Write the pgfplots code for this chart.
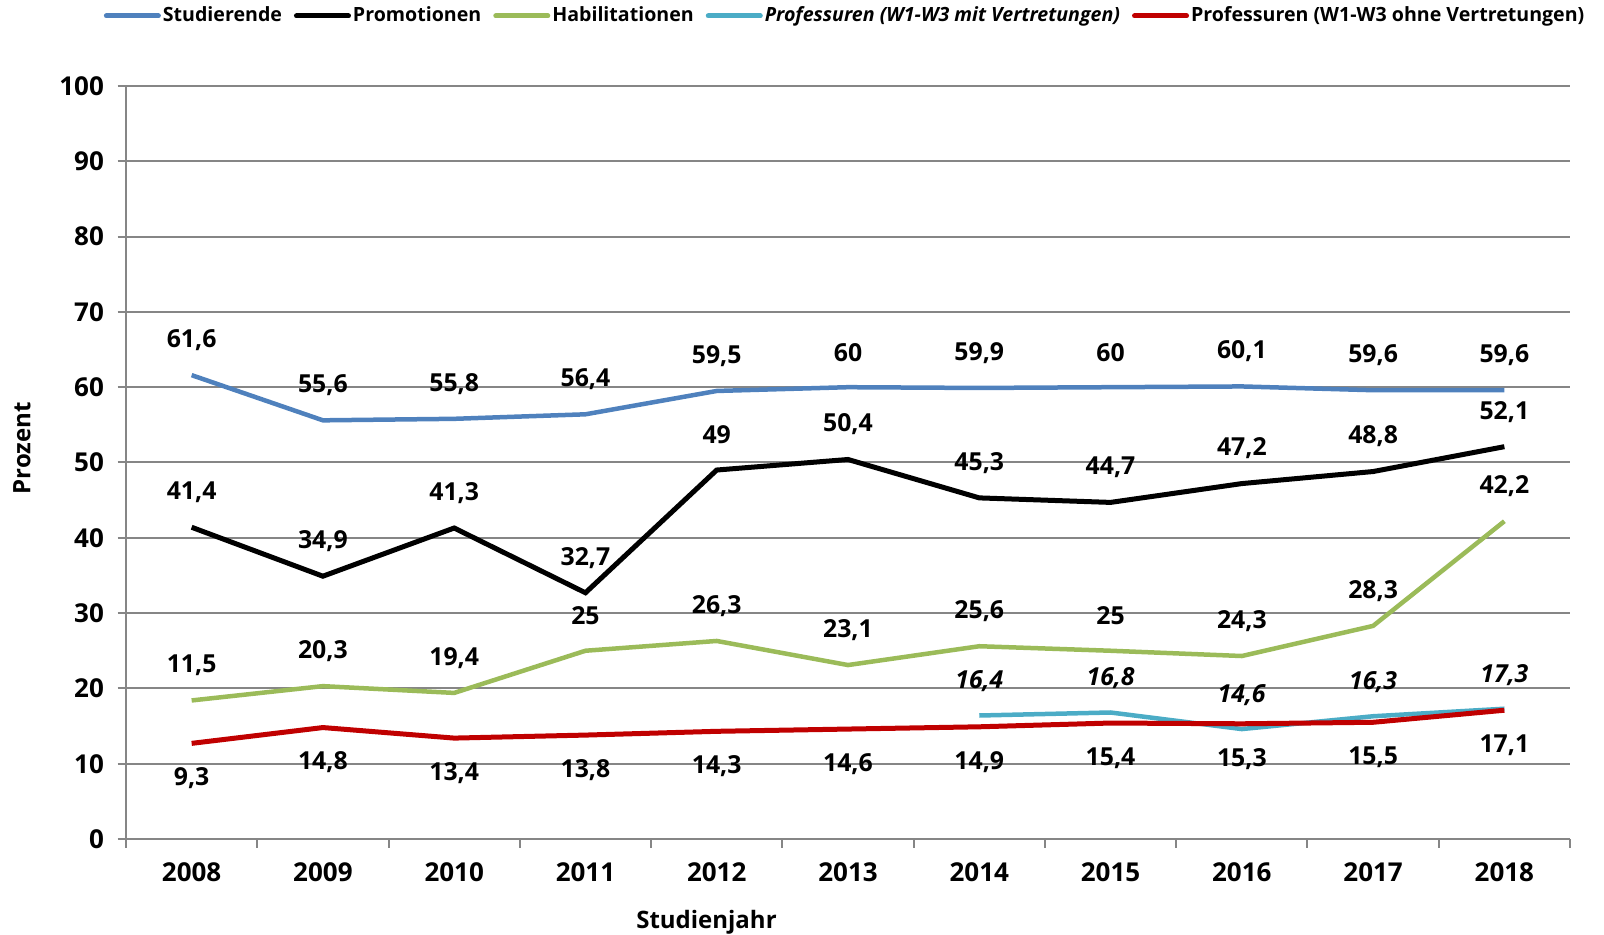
\documentclass[border=0pt]{standalone}
\usepackage{fontspec}
\setmainfont{Open Sans}
\usepackage{pgfplots}
\pgfplotsset{compat=1.18}
\definecolor{cStud}{RGB}{79,129,189}
\definecolor{cHab}{RGB}{155,187,89}
\definecolor{cMit}{RGB}{75,172,198}
\definecolor{cOhne}{RGB}{192,0,0}
\definecolor{gridc}{RGB}{134,134,134}

\begin{document}
\begin{tikzpicture}
\begin{axis}[
    scale only axis, width=722bp, height=376.5bp,
    xmin=-0.5, xmax=10.5, ymin=0, ymax=100,
    xtick={-0.5,0.5,...,10.5},
    xticklabels={2008,2009,2010,2011,2012,2013,2014,2015,2016,2017,2018,{}},
    x tick label as interval,
    ytick={0,10,...,100},
    axis x line*=bottom, axis y line*=left,
    axis line style={gridc, line width=1bp},
    ymajorgrids, xmajorgrids=false, grid style={gridc, line width=1bp},
    tick align=outside, major tick length=4.25bp,
    tick style={gridc, line width=1bp},
    /pgf/number format/assume math mode=true,
    ticklabel style={font=\fontsize{13bp}{15bp}\selectfont\bfseries},
    xticklabel style={inner sep=0pt, anchor=north, yshift=-7.4bp},
    yticklabel style={inner sep=0pt, anchor=east, xshift=-6.6bp},
    xlabel={Studienjahr}, ylabel={Prozent},
    label style={font=\fontsize{12bp}{14bp}\selectfont\bfseries},
    xlabel style={at={(axis description cs:0.402,-0.111)}, anchor=center},
    ylabel style={at={(axis description cs:-0.072,0.519)}, anchor=center},
    legend columns=5,
    legend style={draw=none, fill=none, at={(axis description cs:0.498,1.093)},
        anchor=center, inner sep=0pt,
        font=\fontsize{9.8bp}{11bp}\selectfont\bfseries,
        nodes={inner sep=1bp},
        /tikz/every even column/.append style={column sep=5bp}},
    legend image code/.code={\draw[#1, line width=2.5bp, line cap=round] (0bp,0bp) -- (26bp,0bp);},
    every node near coord/.append style={anchor=center,
        font=\fontsize{12.4bp}{14bp}\selectfont\bfseries},
]
% lines
\addplot[cStud, line width=2.25bp] coordinates {
    (0,61.6) (1,55.6) (2,55.8) (3,56.4) (4,59.5) (5,60) (6,59.9) (7,60) (8,60.1) (9,59.6) (10,59.6)};
\addlegendentry{Studierende}
\addplot[black, line width=2.5bp] coordinates {
    (0,41.4) (1,34.9) (2,41.3) (3,32.7) (4,49) (5,50.4) (6,45.3) (7,44.7) (8,47.2) (9,48.8) (10,52.1)};
\addlegendentry{Promotionen}
\addplot[cHab, line width=2.25bp] coordinates {
    (0,18.4) (1,20.3) (2,19.4) (3,25) (4,26.3) (5,23.1) (6,25.6) (7,25) (8,24.3) (9,28.3) (10,42.2)};
\addlegendentry{Habilitationen}
\addplot[cMit, line width=2.25bp] coordinates {
    (6,16.4) (7,16.8) (8,14.6) (9,16.3) (10,17.3)};
\addlegendentry{\textit{Professuren (W1-W3 mit Vertretungen)}}
\addplot[cOhne, line width=2.5bp] coordinates {
    (0,12.7) (1,14.8) (2,13.4) (3,13.8) (4,14.3) (5,14.6) (6,14.9) (7,15.4) (8,15.3) (9,15.5) (10,17.1)};
\addlegendentry{Professuren (W1-W3 ohne Vertretungen)}

% data labels
\addplot[draw=none, forget plot, point meta=explicit symbolic,
    nodes near coords={\pgfplotspointmeta},
    every node near coord/.append style={yshift=17.5bp}] coordinates {
    (0,61.6) [61,6] (1,55.6) [55,6] (2,55.8) [55,8] (3,56.4) [56,4] (4,59.5) [59,5]
    (5,60) [60] (6,59.9) [59,9] (7,60) [60] (8,60.1) [60,1] (9,59.6) [59,6] (10,59.6) [59,6]};
\addplot[draw=none, forget plot, point meta=explicit symbolic,
    nodes near coords={\pgfplotspointmeta},
    every node near coord/.append style={yshift=17.5bp}] coordinates {
    (0,41.4) [41,4] (1,34.9) [34,9] (2,41.3) [41,3] (3,32.7) [32,7] (4,49) [49]
    (5,50.4) [50,4] (6,45.3) [45,3] (7,44.7) [44,7] (8,47.2) [47,2] (9,48.8) [48,8] (10,52.1) [52,1]};
\addplot[draw=none, forget plot, point meta=explicit symbolic,
    nodes near coords={\pgfplotspointmeta},
    every node near coord/.append style={yshift=17.5bp}] coordinates {
    (0,18.4) [11,5] (1,20.3) [20,3] (2,19.4) [19,4] (3,25) [25] (4,26.3) [26,3]
    (5,23.1) [23,1] (6,25.6) [25,6] (7,25) [25] (8,24.3) [24,3] (9,28.3) [28,3] (10,42.2) [42,2]};
\addplot[draw=none, forget plot, point meta=explicit symbolic,
    nodes near coords={\textit{\pgfplotspointmeta}},
    every node near coord/.append style={yshift=17bp}] coordinates {
    (6,16.4) [16,4] (7,16.8) [16,8] (8,14.6) [14,6] (9,16.3) [16,3] (10,17.3) [17,3]};
\addplot[draw=none, forget plot, point meta=explicit symbolic,
    nodes near coords={\pgfplotspointmeta},
    every node near coord/.append style={yshift=-17.5bp}] coordinates {
    (0,12.7) [9,3] (1,14.8) [14,8] (2,13.4) [13,4] (3,13.8) [13,8] (4,14.3) [14,3]
    (5,14.6) [14,6] (6,14.9) [14,9] (7,15.4) [15,4] (8,15.3) [15,3] (9,15.5) [15,5] (10,17.1) [17,1]};
\end{axis}
\pgfresetboundingbox
\path[use as bounding box] ([xshift=-63bp,yshift=-48bp]current axis.south west)
    rectangle ([xshift=17bp,yshift=43bp]current axis.north east);
\end{tikzpicture}
\end{document}
